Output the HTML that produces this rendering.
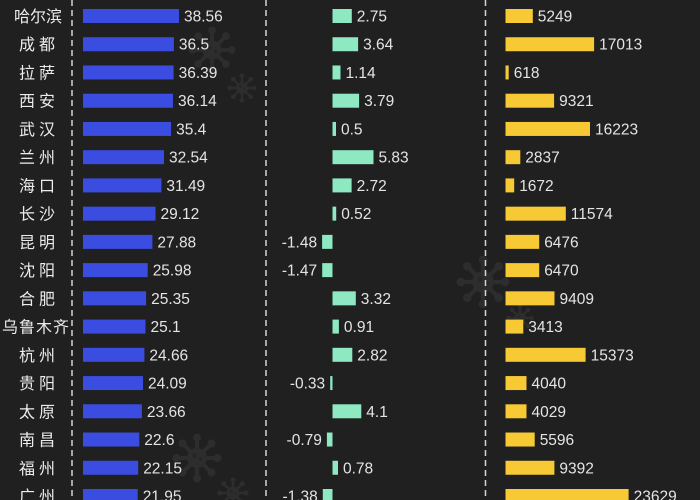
<!DOCTYPE html>
<html><head><meta charset="utf-8"><style>
html,body{margin:0;padding:0;background:#202020;}
svg{display:block;}
.v{font-family:"Liberation Sans","Noto Sans CJK SC",sans-serif;font-size:15.5px;fill:#e4e4e4;}
.c{font-family:"Liberation Sans","Noto Sans CJK SC",sans-serif;font-size:16px;fill:#ececec;}
</style></head><body>
<svg width="700" height="500" viewBox="0 0 700 500" xmlns="http://www.w3.org/2000/svg">
<defs>
<g id="vir">
<g stroke="#2d2d2d" stroke-width="0.16" stroke-linecap="round">
<line x1="0" y1="0" x2="0" y2="-0.8"/><line x1="0" y1="0" x2="0.57" y2="-0.57"/>
<line x1="0" y1="0" x2="0.8" y2="0"/><line x1="0" y1="0" x2="0.57" y2="0.57"/>
<line x1="0" y1="0" x2="0" y2="0.8"/><line x1="0" y1="0" x2="-0.57" y2="0.57"/>
<line x1="0" y1="0" x2="-0.8" y2="0"/><line x1="0" y1="0" x2="-0.57" y2="-0.57"/>
</g>
<g fill="#2d2d2d">
<circle r="0.4"/>
<circle cx="0" cy="-0.82" r="0.16"/><circle cx="0.58" cy="-0.58" r="0.16"/>
<circle cx="0.82" cy="0" r="0.16"/><circle cx="0.58" cy="0.58" r="0.16"/>
<circle cx="0" cy="0.82" r="0.16"/><circle cx="-0.58" cy="0.58" r="0.16"/>
<circle cx="-0.82" cy="0" r="0.16"/><circle cx="-0.58" cy="-0.58" r="0.16"/>
</g>
<g fill="#262626"><circle cx="-0.1" cy="-0.1" r="0.09"/><circle cx="0.15" cy="0.05" r="0.07"/></g>
</g>
</defs>
<rect width="700" height="500" fill="#202020"/>
<use href="#vir" transform="translate(212,50) scale(24)"/>
<use href="#vir" transform="translate(242,88) scale(15)"/>
<use href="#vir" transform="translate(483,282) scale(27)"/>
<use href="#vir" transform="translate(520,318) scale(14)"/>
<use href="#vir" transform="translate(197,458) scale(25)"/>
<use href="#vir" transform="translate(233,493) scale(16)"/>

<g stroke="#d6d6d6" stroke-width="1.5" stroke-dasharray="6 4">
<line x1="72" y1="0" x2="72" y2="500"/>
<line x1="266" y1="0" x2="266" y2="500"/>
<line x1="485.5" y1="0" x2="485.5" y2="500"/>
</g>

<!-- city labels -->
<g class="c">
<text x="38" y="22" text-anchor="middle">哈尔滨</text>
<text x="27" y="50.24" text-anchor="middle">成</text><text x="47" y="50.24" text-anchor="middle">都</text>
<text x="27" y="78.47" text-anchor="middle">拉</text><text x="47" y="78.47" text-anchor="middle">萨</text>
<text x="27" y="106.71" text-anchor="middle">西</text><text x="47" y="106.71" text-anchor="middle">安</text>
<text x="27" y="134.94" text-anchor="middle">武</text><text x="47" y="134.94" text-anchor="middle">汉</text>
<text x="27" y="163.18" text-anchor="middle">兰</text><text x="47" y="163.18" text-anchor="middle">州</text>
<text x="27" y="191.41" text-anchor="middle">海</text><text x="47" y="191.41" text-anchor="middle">口</text>
<text x="27" y="219.65" text-anchor="middle">长</text><text x="47" y="219.65" text-anchor="middle">沙</text>
<text x="27" y="247.88" text-anchor="middle">昆</text><text x="47" y="247.88" text-anchor="middle">明</text>
<text x="27" y="276.12" text-anchor="middle">沈</text><text x="47" y="276.12" text-anchor="middle">阳</text>
<text x="27" y="304.35" text-anchor="middle">合</text><text x="47" y="304.35" text-anchor="middle">肥</text>
<text x="36" y="332.59" text-anchor="middle" letter-spacing="1">乌鲁木齐</text>
<text x="27" y="360.82" text-anchor="middle">杭</text><text x="47" y="360.82" text-anchor="middle">州</text>
<text x="27" y="389.06" text-anchor="middle">贵</text><text x="47" y="389.06" text-anchor="middle">阳</text>
<text x="27" y="417.29" text-anchor="middle">太</text><text x="47" y="417.29" text-anchor="middle">原</text>
<text x="27" y="445.53" text-anchor="middle">南</text><text x="47" y="445.53" text-anchor="middle">昌</text>
<text x="27" y="473.76" text-anchor="middle">福</text><text x="47" y="473.76" text-anchor="middle">州</text>
<text x="27" y="502" text-anchor="middle">广</text><text x="47" y="502" text-anchor="middle">州</text>
</g>

<!-- blue bars -->
<g fill="#3a4de0">
<rect x="83" y="9" width="96" height="14"/>
<rect x="83" y="37.24" width="90.9" height="14"/>
<rect x="83" y="65.47" width="90.6" height="14"/>
<rect x="83" y="93.71" width="90" height="14"/>
<rect x="83" y="121.94" width="88.1" height="14"/>
<rect x="83" y="150.18" width="81" height="14"/>
<rect x="83" y="178.41" width="78.4" height="14"/>
<rect x="83" y="206.65" width="72.5" height="14"/>
<rect x="83" y="234.88" width="69.4" height="14"/>
<rect x="83" y="263.12" width="64.7" height="14"/>
<rect x="83" y="291.35" width="63.1" height="14"/>
<rect x="83" y="319.59" width="62.5" height="14"/>
<rect x="83" y="347.82" width="61.4" height="14"/>
<rect x="83" y="376.06" width="60" height="14"/>
<rect x="83" y="404.29" width="58.9" height="14"/>
<rect x="83" y="432.53" width="56.3" height="14"/>
<rect x="83" y="460.76" width="55.2" height="14"/>
<rect x="83" y="489" width="54.7" height="14"/>
</g>
<g class="v">
<text x="184" y="21.5">38.56</text>
<text x="178.9" y="49.74">36.5</text>
<text x="178.6" y="77.97">36.39</text>
<text x="178" y="106.21">36.14</text>
<text x="176.1" y="134.44">35.4</text>
<text x="169" y="162.68">32.54</text>
<text x="166.4" y="190.91">31.49</text>
<text x="160.5" y="219.15">29.12</text>
<text x="157.4" y="247.38">27.88</text>
<text x="152.7" y="275.62">25.98</text>
<text x="151.1" y="303.85">25.35</text>
<text x="150.5" y="332.09">25.1</text>
<text x="149.4" y="360.32">24.66</text>
<text x="148" y="388.56">24.09</text>
<text x="146.9" y="416.79">23.66</text>
<text x="144.3" y="445.03">22.6</text>
<text x="143.2" y="473.26">22.15</text>
<text x="142.7" y="501.5">21.95</text>
</g>

<!-- green bars -->
<g fill="#8ee8c2">
<rect x="332.5" y="9" width="19.3" height="14"/>
<rect x="332.5" y="37.24" width="25.6" height="14"/>
<rect x="332.5" y="65.47" width="8" height="14"/>
<rect x="332.5" y="93.71" width="26.6" height="14"/>
<rect x="332.5" y="121.94" width="3.5" height="14"/>
<rect x="332.5" y="150.18" width="41" height="14"/>
<rect x="332.5" y="178.41" width="19.1" height="14"/>
<rect x="332.5" y="206.65" width="3.7" height="14"/>
<rect x="322.1" y="234.88" width="10.4" height="14"/>
<rect x="322.2" y="263.12" width="10.3" height="14"/>
<rect x="332.5" y="291.35" width="23.3" height="14"/>
<rect x="332.5" y="319.59" width="6.4" height="14"/>
<rect x="332.5" y="347.82" width="19.8" height="14"/>
<rect x="330.2" y="376.06" width="2.3" height="14"/>
<rect x="332.5" y="404.29" width="28.8" height="14"/>
<rect x="326.9" y="432.53" width="5.6" height="14"/>
<rect x="332.5" y="460.76" width="5.5" height="14"/>
<rect x="322.8" y="489" width="9.7" height="14"/>
</g>
<g class="v">
<text x="356.8" y="21.5">2.75</text>
<text x="363.1" y="49.74">3.64</text>
<text x="345.5" y="77.97">1.14</text>
<text x="364.1" y="106.21">3.79</text>
<text x="341" y="134.44">0.5</text>
<text x="378.5" y="162.68">5.83</text>
<text x="356.6" y="190.91">2.72</text>
<text x="341.2" y="219.15">0.52</text>
<text x="317.1" y="247.38" text-anchor="end">-1.48</text>
<text x="317.2" y="275.62" text-anchor="end">-1.47</text>
<text x="360.8" y="303.85">3.32</text>
<text x="343.9" y="332.09">0.91</text>
<text x="357.3" y="360.32">2.82</text>
<text x="325.2" y="388.56" text-anchor="end">-0.33</text>
<text x="366.3" y="416.79">4.1</text>
<text x="321.9" y="445.03" text-anchor="end">-0.79</text>
<text x="343" y="473.26">0.78</text>
<text x="317.8" y="501.5" text-anchor="end">-1.38</text>
</g>

<!-- yellow bars -->
<g fill="#f6c935">
<rect x="505.5" y="9" width="27.3" height="14"/>
<rect x="505.5" y="37.24" width="88.6" height="14"/>
<rect x="505.5" y="65.47" width="3.2" height="14"/>
<rect x="505.5" y="93.71" width="48.6" height="14"/>
<rect x="505.5" y="121.94" width="84.5" height="14"/>
<rect x="505.5" y="150.18" width="14.8" height="14"/>
<rect x="505.5" y="178.41" width="8.7" height="14"/>
<rect x="505.5" y="206.65" width="60.3" height="14"/>
<rect x="505.5" y="234.88" width="33.7" height="14"/>
<rect x="505.5" y="263.12" width="33.7" height="14"/>
<rect x="505.5" y="291.35" width="49" height="14"/>
<rect x="505.5" y="319.59" width="17.8" height="14"/>
<rect x="505.5" y="347.82" width="80.1" height="14"/>
<rect x="505.5" y="376.06" width="21" height="14"/>
<rect x="505.5" y="404.29" width="21" height="14"/>
<rect x="505.5" y="432.53" width="29.2" height="14"/>
<rect x="505.5" y="460.76" width="48.9" height="14"/>
<rect x="505.5" y="489" width="123.1" height="14"/>
</g>
<g class="v">
<text x="537.8" y="21.5">5249</text>
<text x="599.1" y="49.74">17013</text>
<text x="513.7" y="77.97">618</text>
<text x="559.1" y="106.21">9321</text>
<text x="595" y="134.44">16223</text>
<text x="525.3" y="162.68">2837</text>
<text x="519.2" y="190.91">1672</text>
<text x="570.8" y="219.15">11574</text>
<text x="544.2" y="247.38">6476</text>
<text x="544.2" y="275.62">6470</text>
<text x="559.5" y="303.85">9409</text>
<text x="528.3" y="332.09">3413</text>
<text x="590.6" y="360.32">15373</text>
<text x="531.5" y="388.56">4040</text>
<text x="531.5" y="416.79">4029</text>
<text x="539.7" y="445.03">5596</text>
<text x="559.4" y="473.26">9392</text>
<text x="633.6" y="501.5">23629</text>
</g>
</svg>
</body></html>
